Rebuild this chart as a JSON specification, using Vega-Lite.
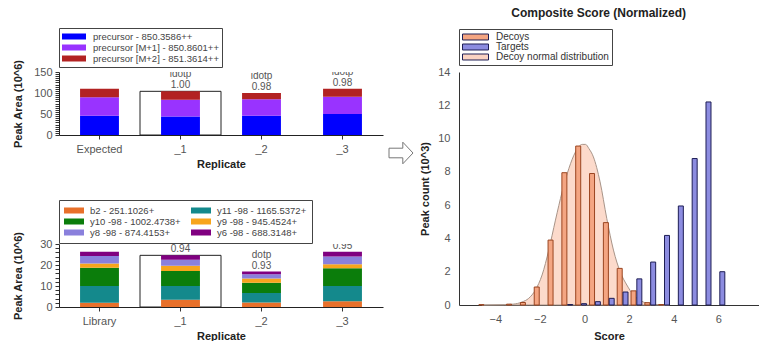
{
  "$schema": "https://vega.github.io/schema/vega-lite/v6.json",
  "background": "white",
  "padding": {"left": 12, "top": 6, "right": 0, "bottom": 0},
  "title": {"text": "Composite Score (Normalized)", "anchor": "end", "dx": -73, "fontSize": 12, "fontWeight": "bold", "color": "#222", "offset": 8, "font": "Liberation Sans"},
  "config": {
    "font": "Liberation Sans",
    "view": {"stroke": null},
    "axis": {"labelColor": "#555", "labelFontSize": 11, "titleFontSize": 11, "titleFontWeight": "bold", "titleColor": "#222", "domainColor": "#333", "tickColor": "#333", "grid": false, "labelFont": "Liberation Sans", "titleFont": "Liberation Sans", "labelOverlap": false},
    "legend": {"labelFont": "Liberation Sans", "labelFontSize": 9.5, "labelColor": "#444", "strokeColor": "#444", "fillColor": "white", "padding": 3, "cornerRadius": 0, "rowPadding": 0, "titleFontSize": 0}
  },
  "datasets": {
    "top": [
      {"replicate": "Expected", "ion": "precursor - 850.3586++", "rank": 1, "value": 46},
      {"replicate": "Expected", "ion": "precursor [M+1] - 850.8601++", "rank": 2, "value": 44},
      {"replicate": "Expected", "ion": "precursor [M+2] - 851.3614++", "rank": 3, "value": 20},
      {"replicate": "_1", "ion": "precursor - 850.3586++", "rank": 1, "value": 44},
      {"replicate": "_1", "ion": "precursor [M+1] - 850.8601++", "rank": 2, "value": 40},
      {"replicate": "_1", "ion": "precursor [M+2] - 851.3614++", "rank": 3, "value": 20},
      {"replicate": "_2", "ion": "precursor - 850.3586++", "rank": 1, "value": 46},
      {"replicate": "_2", "ion": "precursor [M+1] - 850.8601++", "rank": 2, "value": 39},
      {"replicate": "_2", "ion": "precursor [M+2] - 851.3614++", "rank": 3, "value": 15},
      {"replicate": "_3", "ion": "precursor - 850.3586++", "rank": 1, "value": 50},
      {"replicate": "_3", "ion": "precursor [M+1] - 850.8601++", "rank": 2, "value": 41},
      {"replicate": "_3", "ion": "precursor [M+2] - 851.3614++", "rank": 3, "value": 19}
    ],
    "topBox": [{"replicate": "_1", "total": 104}],
    "topLab": [
      {"replicate": "_1", "total": 104, "label": "idotp 1.00"},
      {"replicate": "_2", "total": 100, "label": "idotp 0.98"},
      {"replicate": "_3", "total": 110, "label": "idotp 0.98"}
    ],
    "bot": [
      {"replicate": "Library", "frag": "b2 - 251.1026+", "rank": 1, "value": 2.0},
      {"replicate": "Library", "frag": "y11 -98 - 1165.5372+", "rank": 2, "value": 8.0},
      {"replicate": "Library", "frag": "y10 -98 - 1002.4738+", "rank": 3, "value": 8.7},
      {"replicate": "Library", "frag": "y9 -98 - 945.4524+", "rank": 4, "value": 2.0},
      {"replicate": "Library", "frag": "y8 -98 - 874.4153+", "rank": 5, "value": 3.6},
      {"replicate": "Library", "frag": "y6 -98 - 688.3148+", "rank": 6, "value": 2.0},
      {"replicate": "_1", "frag": "b2 - 251.1026+", "rank": 1, "value": 3.5},
      {"replicate": "_1", "frag": "y11 -98 - 1165.5372+", "rank": 2, "value": 6.5},
      {"replicate": "_1", "frag": "y10 -98 - 1002.4738+", "rank": 3, "value": 7.2},
      {"replicate": "_1", "frag": "y9 -98 - 945.4524+", "rank": 4, "value": 2.4},
      {"replicate": "_1", "frag": "y8 -98 - 874.4153+", "rank": 5, "value": 2.9},
      {"replicate": "_1", "frag": "y6 -98 - 688.3148+", "rank": 6, "value": 2.1},
      {"replicate": "_2", "frag": "b2 - 251.1026+", "rank": 1, "value": 2.2},
      {"replicate": "_2", "frag": "y11 -98 - 1165.5372+", "rank": 2, "value": 4.5},
      {"replicate": "_2", "frag": "y10 -98 - 1002.4738+", "rank": 3, "value": 4.8},
      {"replicate": "_2", "frag": "y9 -98 - 945.4524+", "rank": 4, "value": 2.1},
      {"replicate": "_2", "frag": "y8 -98 - 874.4153+", "rank": 5, "value": 2.0},
      {"replicate": "_2", "frag": "y6 -98 - 688.3148+", "rank": 6, "value": 1.3},
      {"replicate": "_3", "frag": "b2 - 251.1026+", "rank": 1, "value": 2.7},
      {"replicate": "_3", "frag": "y11 -98 - 1165.5372+", "rank": 2, "value": 7.3},
      {"replicate": "_3", "frag": "y10 -98 - 1002.4738+", "rank": 3, "value": 8.5},
      {"replicate": "_3", "frag": "y9 -98 - 945.4524+", "rank": 4, "value": 1.9},
      {"replicate": "_3", "frag": "y8 -98 - 874.4153+", "rank": 5, "value": 3.7},
      {"replicate": "_3", "frag": "y6 -98 - 688.3148+", "rank": 6, "value": 2.2}
    ],
    "botBox": [{"replicate": "_1", "total": 24.6}],
    "botLab": [
      {"replicate": "_1", "total": 24.6, "label": "dotp 0.94"},
      {"replicate": "_2", "total": 16.9, "label": "dotp 0.93"},
      {"replicate": "_3", "total": 26.3, "label": "dotp 0.95"}
    ],
    "arrow": [{"label": "arrow"}],
    "hist": [
      {"series": "Decoys", "score": -4.62, "count": 0.02},
      {"series": "Decoys", "score": -3.38, "count": 0.05},
      {"series": "Decoys", "score": -2.76, "count": 0.15},
      {"series": "Decoys", "score": -2.14, "count": 1.08},
      {"series": "Decoys", "score": -1.52, "count": 3.9},
      {"series": "Decoys", "score": -0.90, "count": 7.95},
      {"series": "Decoys", "score": -0.28, "count": 9.55},
      {"series": "Decoys", "score": 0.34, "count": 7.9},
      {"series": "Decoys", "score": 0.96, "count": 4.95},
      {"series": "Decoys", "score": 1.58, "count": 2.2},
      {"series": "Decoys", "score": 2.20, "count": 0.85},
      {"series": "Decoys", "score": 2.82, "count": 0.14},
      {"series": "Decoys", "score": 3.44, "count": 0.03},
      {"series": "Targets", "score": -0.64, "count": 0.03},
      {"series": "Targets", "score": -0.02, "count": 0.08},
      {"series": "Targets", "score": 0.60, "count": 0.2},
      {"series": "Targets", "score": 1.22, "count": 0.4},
      {"series": "Targets", "score": 1.84, "count": 0.78},
      {"series": "Targets", "score": 2.46, "count": 1.57},
      {"series": "Targets", "score": 3.08, "count": 2.58},
      {"series": "Targets", "score": 3.70, "count": 4.18},
      {"series": "Targets", "score": 4.32, "count": 5.95},
      {"series": "Targets", "score": 4.94, "count": 8.8},
      {"series": "Targets", "score": 5.56, "count": 12.2},
      {"series": "Targets", "score": 6.18, "count": 2.0}
    ],
    "curve": [
      {"series": "Decoy normal distribution", "score": -4.6, "count": 0},
      {"series": "Decoy normal distribution", "score": -3.6, "count": 0.02},
      {"series": "Decoy normal distribution", "score": -3.2, "count": 0.05},
      {"series": "Decoy normal distribution", "score": -2.8, "count": 0.18},
      {"series": "Decoy normal distribution", "score": -2.5, "count": 0.4},
      {"series": "Decoy normal distribution", "score": -2.2, "count": 0.9},
      {"series": "Decoy normal distribution", "score": -1.9, "count": 1.8},
      {"series": "Decoy normal distribution", "score": -1.6, "count": 3.3},
      {"series": "Decoy normal distribution", "score": -1.3, "count": 5.1},
      {"series": "Decoy normal distribution", "score": -1.0, "count": 6.8},
      {"series": "Decoy normal distribution", "score": -0.7, "count": 8.2},
      {"series": "Decoy normal distribution", "score": -0.4, "count": 9.2},
      {"series": "Decoy normal distribution", "score": -0.1, "count": 9.65},
      {"series": "Decoy normal distribution", "score": 0.05, "count": 9.65},
      {"series": "Decoy normal distribution", "score": 0.2, "count": 9.4},
      {"series": "Decoy normal distribution", "score": 0.4, "count": 8.9},
      {"series": "Decoy normal distribution", "score": 0.7, "count": 7.4},
      {"series": "Decoy normal distribution", "score": 1.0, "count": 5.2},
      {"series": "Decoy normal distribution", "score": 1.3, "count": 3.3},
      {"series": "Decoy normal distribution", "score": 1.6, "count": 2.0},
      {"series": "Decoy normal distribution", "score": 1.9, "count": 1.2},
      {"series": "Decoy normal distribution", "score": 2.2, "count": 0.6},
      {"series": "Decoy normal distribution", "score": 2.5, "count": 0.28},
      {"series": "Decoy normal distribution", "score": 2.8, "count": 0.1},
      {"series": "Decoy normal distribution", "score": 3.2, "count": 0.03},
      {"series": "Decoy normal distribution", "score": 3.8, "count": 0}
    ]
  },
  "resolve": {"scale": {"color": "independent", "x": "independent", "y": "independent"}, "legend": {"color": "independent"}},
  "spacing": 4,
  "hconcat": [
    {
      "spacing": 30,
      "resolve": {"scale": {"color": "independent", "x": "independent", "y": "independent"}, "legend": {"color": "independent"}},
      "vconcat": [
        {
          "width": 324,
          "height": 63,
          "layer": [
            {
              "data": {"name": "topBox"},
              "mark": {"type": "bar", "fill": "white", "stroke": "#222", "strokeWidth": 1, "width": {"band": 1}},
              "encoding": {
                "x": {"field": "replicate", "type": "nominal", "sort": null, "scale": {"domain": ["Expected", "_1", "_2", "_3"], "paddingInner": 0, "paddingOuter": 0}, "axis": {"title": "Replicate", "labelAngle": 0, "tickSize": 4, "labelPadding": 4, "titlePadding": 4, "domainColor": "#222"}},
                "y": {"field": "total", "type": "quantitative", "scale": {"domain": [0, 150], "nice": false}, "axis": {"title": "Peak Area (10^6)", "tickCount": 30, "labelExpr": "datum.value % 50 === 0 ? datum.label : ''", "labelOverlap": false, "tickSize": 4, "labelPadding": 3, "titlePadding": 10, "domainColor": "#222"}}
              }
            },
            {
              "data": {"name": "top"},
              "mark": {"type": "bar", "width": {"band": 0.48}},
              "encoding": {
                "x": {"field": "replicate", "type": "nominal", "sort": null},
                "y": {"field": "value", "type": "quantitative", "stack": "zero"},
                "order": {"field": "rank", "type": "quantitative"},
                "color": {"field": "ion", "type": "nominal", "scale": {"domain": ["precursor - 850.3586++", "precursor [M+1] - 850.8601++", "precursor [M+2] - 851.3614++"], "range": ["#0000ff", "#9933ff", "#b22222"]}, "legend": {"orient": "top", "direction": "vertical", "columns": 1, "title": null, "symbolType": "M -1 -0.25 H 1 V 0.25 H -1 Z", "symbolSize": 576, "symbolStrokeWidth": 0, "symbolOffset": 0, "labelOffset": 7, "clipHeight": 11, "offset": 5}}
              }
            },
            {
              "data": {"name": "topLab"},
              "mark": {"type": "text", "baseline": "bottom", "dy": -12, "lineBreak": " ", "lineHeight": 11, "clip": true, "fontSize": 10, "color": "#555"},
              "encoding": {
                "x": {"field": "replicate", "type": "nominal", "sort": null},
                "y": {"field": "total", "type": "quantitative"},
                "text": {"field": "label"}
              }
            }
          ]
        },
        {
          "width": 324,
          "height": 63,
          "layer": [
            {
              "data": {"name": "botBox"},
              "mark": {"type": "bar", "fill": "white", "stroke": "#222", "strokeWidth": 1, "width": {"band": 1}},
              "encoding": {
                "x": {"field": "replicate", "type": "nominal", "sort": null, "scale": {"domain": ["Library", "_1", "_2", "_3"], "paddingInner": 0, "paddingOuter": 0}, "axis": {"title": "Replicate", "labelAngle": 0, "tickSize": 4, "labelPadding": 4, "titlePadding": 4, "domainColor": "#222"}},
                "y": {"field": "total", "type": "quantitative", "scale": {"domain": [0, 30], "nice": false}, "axis": {"title": "Peak Area (10^6)", "tickCount": 15, "labelExpr": "datum.value % 10 === 0 ? datum.label : ''", "labelOverlap": false, "tickSize": 4, "labelPadding": 3, "titlePadding": 16, "domainColor": "#222"}}
              }
            },
            {
              "data": {"name": "bot"},
              "mark": {"type": "bar", "width": {"band": 0.48}},
              "encoding": {
                "x": {"field": "replicate", "type": "nominal", "sort": null},
                "y": {"field": "value", "type": "quantitative", "stack": "zero"},
                "order": {"field": "rank", "type": "quantitative"},
                "color": {"field": "frag", "type": "nominal", "scale": {"domain": ["b2 - 251.1026+", "y11 -98 - 1165.5372+", "y10 -98 - 1002.4738+", "y9 -98 - 945.4524+", "y8 -98 - 874.4153+", "y6 -98 - 688.3148+"], "range": ["#e8702a", "#14898c", "#0b7d0b", "#f7a51c", "#8a80dc", "#800080"]}, "legend": {"orient": "top", "direction": "horizontal", "columns": 2, "title": null, "symbolType": "M -1 -0.3 H 1 V 0.3 H -1 Z", "symbolSize": 400, "symbolStrokeWidth": 0, "symbolOffset": 0, "labelOffset": 6, "columnPadding": 10, "clipHeight": 11, "padding": 5, "offset": 1}}
              }
            },
            {
              "data": {"name": "botLab"},
              "mark": {"type": "text", "baseline": "bottom", "dy": -12, "lineBreak": " ", "lineHeight": 11, "clip": true, "fontSize": 10, "color": "#555"},
              "encoding": {
                "x": {"field": "replicate", "type": "nominal", "sort": null},
                "y": {"field": "total", "type": "quantitative"},
                "text": {"field": "label"}
              }
            }
          ]
        }
      ]
    },
    {
      "width": 24,
      "height": 162,
      "data": {"name": "arrow"},
      "mark": {"type": "point", "shape": "M -1 -0.4 L 0.15 -0.4 L 0.15 -0.9 L 1 0 L 0.15 0.9 L 0.15 0.4 L -1 0.4 Z", "size": 576, "filled": true, "fill": "white", "stroke": "#777", "strokeWidth": 1, "opacity": 1},
      "encoding": {}
    },
    {
      "width": 300,
      "height": 233,
      "layer": [
        {
          "data": {"name": "curve"},
          "mark": {"type": "area", "interpolate": "monotone", "stroke": "#a89488", "strokeWidth": 1, "fillOpacity": 0.85},
          "encoding": {
            "x": {"field": "score", "type": "quantitative", "scale": {"domain": [-5.4, 7.6], "nice": false, "zero": false}, "axis": {"title": "Score", "values": [-4, -2, 0, 2, 4, 6], "ticks": false, "labelOverlap": false, "labelPadding": 8, "titlePadding": 6, "domainColor": "#333"}},
            "y": {"field": "count", "type": "quantitative", "stack": null, "scale": {"domain": [0, 14], "nice": false}, "axis": {"title": "Peak count (10^3)", "tickCount": 7, "ticks": false, "labelOverlap": false, "labelPadding": 9, "titlePadding": 7, "domainColor": "#333"}},
            "color": {
              "field": "series", "type": "nominal",
              "scale": {"domain": ["Decoys", "Targets", "Decoy normal distribution"], "range": ["#f4a582", "#8c8ce0", "#fbd3c2"]},
              "legend": {
                "orient": "top", "direction": "vertical", "columns": 1, "title": null, "labelFontSize": 10, "labelColor": "#333",
                "symbolType": "M -1 -0.23 H 1 V 0.23 H -1 Z", "symbolSize": 676, "symbolStrokeWidth": 1, "symbolStrokeColor": "#444", "symbolOffset": 0, "labelOffset": 7, "clipHeight": 10, "rowPadding": 0, "offset": 7, "padding": 3
              }
            }
          }
        },
        {
          "data": {"name": "hist"},
          "mark": {"type": "bar", "width": 5, "strokeWidth": 1},
          "encoding": {
            "x": {"field": "score", "type": "quantitative"},
            "y": {"field": "count", "type": "quantitative", "stack": null},
            "color": {"field": "series", "type": "nominal"},
            "stroke": {"condition": {"test": "datum.series === 'Decoys'", "value": "#9a4520"}, "value": "#1e1e55"}
          }
        }
      ]
    }
  ]
}
